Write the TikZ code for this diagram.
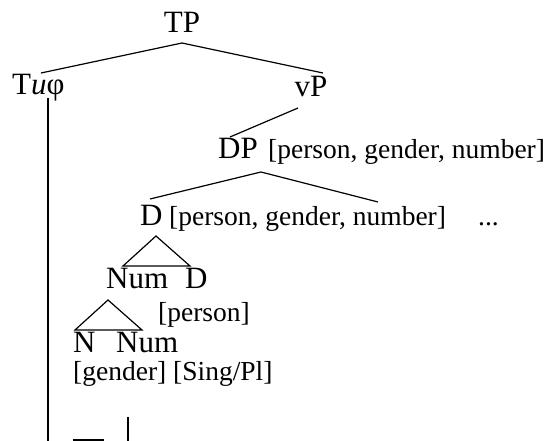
\documentclass[tikz,border=0pt]{standalone}
\usepackage{fontspec}
\setmainfont{Liberation Serif}
\begin{document}
\begin{tikzpicture}[x=1pt,y=-1pt,
  big/.style={inner sep=0pt,anchor=base west,font=\fontsize{31}{33}\selectfont},
  feat/.style={inner sep=0pt,anchor=base west,font=\fontsize{27.5}{30}\selectfont},
  branch/.style={line width=1.2pt},
  trunk/.style={line width=1.6pt}]
\useasboundingbox (0,0) rectangle (554,441);
% labels
\node[big,anchor=base] (TP) at (182,33) {TP};
\node[big] (T) at (12,95) {T\textit{u}φ};
\node[big,anchor=base] (vP) at (311,97) {vP};
\node[big] (DP) at (218,158) {DP};
\node[feat] (DPf) at (268,158) {[person, gender, number]};
\node[big] (D) at (140,225) {D};
\node[feat] (Df) at (169,225) {[person, gender, number]};
\node[feat] (dots) at (478,225) {...};
\node[big] (Num) at (106,288) {Num};
\node[big] (D2) at (185,288) {D};
\node[feat] (Dpers) at (158,321) {[person]};
\node[big] (N) at (73,352) {N};
\node[big] (Num2) at (116,352) {Num};
\node[feat] (Nf) at (73,380) {[gender] [Sing/Pl]};
% branch points
\coordinate (aTP) at (182,43);
\coordinate (eT) at (41,73);
\coordinate (evP) at (323,73);
\coordinate (svP) at (298,108);
\coordinate (eDP) at (230,137);
\coordinate (aDP) at (261,172);
\coordinate (eD) at (150,199);
\coordinate (eR) at (378,202);
\coordinate (aD) at (156,236);
\coordinate (bD1) at (123,266);
\coordinate (bD2) at (190,266);
\coordinate (aN) at (108,300);
\coordinate (bN1) at (75,330);
\coordinate (bN2) at (142,330);
\coordinate (tTop) at (48,98);
\coordinate (tBot) at (48,441);
\coordinate (h1) at (73,440);
\coordinate (h2) at (104,440);
\coordinate (v1) at (128,417);
\coordinate (v2) at (128,441);
% connectors
\draw[branch] (eT) -- (aTP) -- (evP);
\draw[branch] (svP) -- (eDP);
\draw[branch] (eD) -- (aDP) -- (eR);
\draw[branch] (bD1) -- (aD) -- (bD2) -- cycle;
\draw[branch] (bN1) -- (aN) -- (bN2) -- cycle;
\draw[trunk] (tTop) -- (tBot);
\draw[branch] (h1) -- (h2);
\draw[branch] (v1) -- (v2);
\end{tikzpicture}
\end{document}
